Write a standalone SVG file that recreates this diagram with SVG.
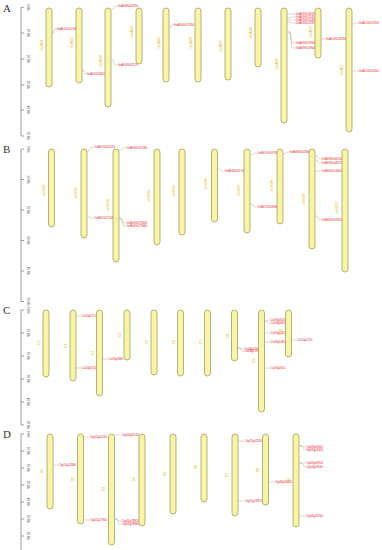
<svg xmlns="http://www.w3.org/2000/svg" width="382" height="550" viewBox="0 0 382 550">
<style>
text{font-family:"Liberation Sans",Arial,sans-serif}
.panel{font-family:"Liberation Serif","Times New Roman",serif;font-size:11px;fill:#333}
.chr{fill:#f8f5a6;stroke:#a3a060;stroke-width:0.8}
.cn{font-size:3.6px;fill:#e8b000;text-anchor:middle}
.g{font-size:2.9px;fill:#e8232b}
.ln{stroke:#a0a0a0;stroke-width:0.4;fill:none}
.ax{stroke:#606060;stroke-width:0.6;fill:none}
.tk{font-size:3px;fill:#555;text-anchor:middle}
</style>
<rect width="382" height="550" fill="#fff"/>

<!-- panel letters -->
<text class="panel" x="3" y="12">A</text>
<text class="panel" x="3" y="153">B</text>
<text class="panel" x="3" y="314">C</text>
<text class="panel" x="3" y="438">D</text>

<!-- scale axes -->
<g id="scales">
<path class="ax" d="M21,7.3V136 M21,7.3H24 M21,33H24 M21,59H24 M21,85H24 M21,110H24 M21,136H24"/>
<g class="tk">
<text transform="translate(27,7.3) rotate(90)">0 Mb</text>
<text transform="translate(27,33) rotate(90)">10 Mb</text>
<text transform="translate(27,59) rotate(90)">20 Mb</text>
<text transform="translate(27,85) rotate(90)">30 Mb</text>
<text transform="translate(27,110) rotate(90)">40 Mb</text>
<text transform="translate(27,136) rotate(90)">50 Mb</text>
</g>
<path class="ax" d="M21,149V301.5 M21,149H24 M21,179.5H24 M21,210H24 M21,240.5H24 M21,271H24 M21,301.5H24"/>
<g class="tk">
<text transform="translate(27,149) rotate(90)">0 Mb</text>
<text transform="translate(27,179.5) rotate(90)">10 Mb</text>
<text transform="translate(27,210) rotate(90)">20 Mb</text>
<text transform="translate(27,240.5) rotate(90)">30 Mb</text>
<text transform="translate(27,271) rotate(90)">40 Mb</text>
<text transform="translate(27,301.5) rotate(90)">50 Mb</text>
</g>
<path class="ax" d="M21,310V425 M21,310H24 M21,333H24 M21,356H24 M21,379H24 M21,402H24 M21,425H24"/>
<g class="tk">
<text transform="translate(27,310) rotate(90)">0 Mb</text>
<text transform="translate(27,333) rotate(90)">10 Mb</text>
<text transform="translate(27,356) rotate(90)">20 Mb</text>
<text transform="translate(27,379) rotate(90)">30 Mb</text>
<text transform="translate(27,402) rotate(90)">40 Mb</text>
<text transform="translate(27,425) rotate(90)">50 Mb</text>
</g>
<path class="ax" d="M21,434V550 M21,434H24 M21,451H24 M21,468H24 M21,485H24 M21,502H24 M21,519H24 M21,536H24"/>
<g class="tk">
<text transform="translate(27,434) rotate(90)">0 Mb</text>
<text transform="translate(27,451) rotate(90)">10 Mb</text>
<text transform="translate(27,468) rotate(90)">20 Mb</text>
<text transform="translate(27,485) rotate(90)">30 Mb</text>
<text transform="translate(27,502) rotate(90)">40 Mb</text>
<text transform="translate(27,519) rotate(90)">50 Mb</text>
<text transform="translate(27,536) rotate(90)">60 Mb</text>
</g>
</g>

<!-- connectors -->
<g id="connectors">
<path class="ln" d="M52,33H53.5L54.5,29H56"/>
<path class="ln" d="M82,70H83.5L84.5,74H86"/>
<path class="ln" d="M111,9H113L115,6H117"/>
<path class="ln" d="M111,60H113L115,65H117"/>
<path class="ln" d="M169,28H170.5L171.5,25H173"/>
<path class="ln" d="M287,14H290L292,14H295"/>
<path class="ln" d="M287,18H290L292,17H295"/>
<path class="ln" d="M287,20H290L292,20H295"/>
<path class="ln" d="M287,22H290L292,23H295"/>
<path class="ln" d="M287,32H290L292,43H295"/>
<path class="ln" d="M287,32H290L292,48H295"/>
<path class="ln" d="M321,39H325"/>
<path class="ln" d="M352,24H354L355.5,23H358"/>
<path class="ln" d="M352,71H358"/>

<path class="ln" d="M87,151H89L91.5,147H94"/>
<path class="ln" d="M87,216H89L91.5,218H94"/>
<path class="ln" d="M119,150H121L123.5,148H126"/>
<path class="ln" d="M119,218H121L123.5,223H126"/>
<path class="ln" d="M119,218H121L123.5,226H126"/>
<path class="ln" d="M217,168H219L221.5,171H224"/>
<path class="ln" d="M250,155H252L254.5,153H257"/>
<path class="ln" d="M250,204H252L254.5,207H257"/>
<path class="ln" d="M283,154H285L287,152H289"/>
<path class="ln" d="M315,156H317L319,159H321"/>
<path class="ln" d="M315,160H317L319,163H321"/>
<path class="ln" d="M315,171H321"/>
<path class="ln" d="M315,216H317L319,220H321"/>

<path class="ln" d="M76,316H81"/>
<path class="ln" d="M76,368H81"/>
<path class="ln" d="M102,359H108"/>
<path class="ln" d="M237,348H240L242,349H244"/>
<path class="ln" d="M237,348H240L242,351.5H244"/>
<path class="ln" d="M264,321H266L268,320H270"/>
<path class="ln" d="M264,321H266L268,323H270"/>
<path class="ln" d="M264,333H270"/>
<path class="ln" d="M264,342H270"/>
<path class="ln" d="M264,368H270"/>
<path class="ln" d="M291,340H297"/>

<path class="ln" d="M53,465H59"/>
<path class="ln" d="M83,437H90"/>
<path class="ln" d="M83,520H90"/>
<path class="ln" d="M114,435H122"/>
<path class="ln" d="M114,519H117L119,521H122"/>
<path class="ln" d="M114,519H117L119,524H122"/>
<path class="ln" d="M238,441H245"/>
<path class="ln" d="M238,501H245"/>
<path class="ln" d="M268,482H275"/>
<path class="ln" d="M299,446H302L304,447H306"/>
<path class="ln" d="M299,446H302L304,449.5H306"/>
<path class="ln" d="M299,463H302L304,463H306"/>
<path class="ln" d="M299,463H302L304,466.5H306"/>
<path class="ln" d="M299,516H306"/>
</g>

<!-- Panel A -->
<g id="A01"><rect class="chr" x="46" y="8" width="6" height="79" rx="3"/><text class="cn" transform="translate(42.5,45) rotate(-90)">chrA01</text>
<text class="g" x="56.5" y="30">GsA01G012340</text></g>
<g id="A02"><rect class="chr" x="76" y="8" width="6" height="75" rx="3"/><text class="cn" transform="translate(72.5,43) rotate(-90)">chrA02</text>
<text class="g" x="86.5" y="75">GsA02G058120</text></g>
<g id="A03"><rect class="chr" x="105" y="8" width="6" height="99" rx="3"/><text class="cn" transform="translate(101.5,61) rotate(-90)">chrA03</text>
<text class="g" x="117.5" y="7">GsA03G000910</text>
<text class="g" x="117.5" y="66">GsA03G041270</text></g>
<g id="A04"><rect class="chr" x="136" y="8" width="6" height="56" rx="3"/><text class="cn" transform="translate(132.5,32) rotate(-90)">chrA04</text></g>
<g id="A05"><rect class="chr" x="163" y="8" width="6" height="74" rx="3"/><text class="cn" transform="translate(159.5,43) rotate(-90)">chrA05</text>
<text class="g" x="173.5" y="26">GsA05G017650</text></g>
<g id="A06"><rect class="chr" x="195" y="8" width="6" height="74" rx="3"/><text class="cn" transform="translate(191.5,43) rotate(-90)">chrA06</text></g>
<g id="A07"><rect class="chr" x="225" y="8" width="6" height="72" rx="3"/><text class="cn" transform="translate(221.5,46) rotate(-90)">chrA07</text></g>
<g id="A08"><rect class="chr" x="255" y="8" width="6" height="59" rx="3"/><text class="cn" transform="translate(251.5,33) rotate(-90)">chrA08</text></g>
<g id="A09"><rect class="chr" x="281" y="8" width="6" height="115" rx="3"/><text class="cn" transform="translate(277.5,64) rotate(-90)">chrA09</text>
<text class="g" x="295.5" y="15">GsA09G008230</text>
<text class="g" x="295.5" y="18">GsA09G011450</text>
<text class="g" x="295.5" y="21">GsA09G011460</text>
<text class="g" x="295.5" y="24">GsA09G012870</text>
<text class="g" x="295.5" y="44">GsA09G019630</text>
<text class="g" x="295.5" y="49">GsA09G019640</text></g>
<g id="A10"><rect class="chr" x="315" y="8" width="6" height="50" rx="3"/><text class="cn" transform="translate(311.5,32) rotate(-90)">chrA10</text>
<text class="g" x="325.5" y="40">GsA10G028390</text></g>
<g id="A11"><rect class="chr" x="346" y="8" width="6" height="124" rx="3"/><text class="cn" transform="translate(342.5,70) rotate(-90)">chrA11</text>
<text class="g" x="358.5" y="24">GsA11G013920</text>
<text class="g" x="358.5" y="72">GsA11G052610</text></g>

<!-- Panel B -->
<g id="B01"><rect class="chr" x="48.5" y="149" width="6" height="78" rx="3"/><text class="cn" transform="translate(44.5,190) rotate(-90)">chrB01</text></g>
<g id="B02"><rect class="chr" x="81" y="149" width="6" height="89" rx="3"/><text class="cn" transform="translate(77,193) rotate(-90)">chrB02</text>
<text class="g" x="94.5" y="148">GsB02G001150</text>
<text class="g" x="94.5" y="219">GsB02G071680</text></g>
<g id="B03"><rect class="chr" x="113" y="149" width="6" height="113" rx="3"/><text class="cn" transform="translate(109,205) rotate(-90)">chrB03</text>
<text class="g" x="126.5" y="149">GsB03G001380</text>
<text class="g" x="126.5" y="224">GsB03G079450</text>
<text class="g" x="126.5" y="227">GsB03G079460</text></g>
<g id="B04"><rect class="chr" x="154" y="149" width="6" height="96" rx="3"/><text class="cn" transform="translate(150,196) rotate(-90)">chrB04</text></g>
<g id="B05"><rect class="chr" x="179" y="149" width="6" height="86" rx="3"/><text class="cn" transform="translate(175,191) rotate(-90)">chrB05</text></g>
<g id="B06"><rect class="chr" x="211.5" y="149" width="6" height="73" rx="3"/><text class="cn" transform="translate(207,184) rotate(-90)">chrB06</text>
<text class="g" x="224.5" y="172">GsB06G021730</text></g>
<g id="B07"><rect class="chr" x="244" y="149" width="6" height="84" rx="3"/><text class="cn" transform="translate(240,190) rotate(-90)">chrB07</text>
<text class="g" x="257.5" y="154">GsB07G003760</text>
<text class="g" x="257.5" y="208">GsB07G053980</text></g>
<g id="B08"><rect class="chr" x="277" y="149" width="6" height="75" rx="3"/><text class="cn" transform="translate(273,186) rotate(-90)">chrB08</text>
<text class="g" x="289.5" y="153">GsB08G002840</text></g>
<g id="B09"><rect class="chr" x="309" y="149" width="6" height="100" rx="3"/><text class="cn" transform="translate(305,199) rotate(-90)">chrB09</text>
<text class="g" x="321.5" y="160">GsB09G006150</text>
<text class="g" x="321.5" y="164">GsB09G008270</text>
<text class="g" x="321.5" y="172">GsB09G014620</text>
<text class="g" x="321.5" y="221">GsB09G059310</text></g>
<g id="B10"><rect class="chr" x="342" y="149" width="6" height="123" rx="3"/><text class="cn" transform="translate(338,208) rotate(-90)">chrB10</text></g>

<!-- Panel C -->
<g id="C01"><rect class="chr" x="43" y="310" width="6" height="67" rx="3"/><text class="cn" transform="translate(40,343) rotate(-90)">C1</text></g>
<g id="C02"><rect class="chr" x="70" y="310" width="6" height="71" rx="3"/><text class="cn" transform="translate(67,346) rotate(-90)">C2</text>
<text class="g" x="81.5" y="317">Cs02g0710</text>
<text class="g" x="81.5" y="369">Cs02g3150</text></g>
<g id="C03"><rect class="chr" x="96.5" y="310" width="6" height="86" rx="3"/><text class="cn" transform="translate(94,353) rotate(-90)">C3</text>
<text class="g" x="108.5" y="360">Cs03g2680</text></g>
<g id="C04"><rect class="chr" x="124" y="310" width="6" height="50" rx="3"/><text class="cn" transform="translate(121,335) rotate(-90)">C4</text></g>
<g id="C05"><rect class="chr" x="151" y="310" width="6" height="65" rx="3"/><text class="cn" transform="translate(148,342) rotate(-90)">C5</text></g>
<g id="C06"><rect class="chr" x="177.5" y="310" width="6" height="66" rx="3"/><text class="cn" transform="translate(175,342) rotate(-90)">C6</text></g>
<g id="C07"><rect class="chr" x="204.5" y="310" width="6" height="66" rx="3"/><text class="cn" transform="translate(202,342) rotate(-90)">C7</text></g>
<g id="C08"><rect class="chr" x="231.5" y="310" width="6" height="51" rx="3"/><text class="cn" transform="translate(229,336) rotate(-90)">C8</text>
<text class="g" x="244.5" y="349.8">Cs08g2140</text>
<text class="g" x="244.5" y="352.4">Cs08g2150</text></g>
<g id="C09"><rect class="chr" x="258.5" y="310" width="6" height="102" rx="3"/><text class="cn" transform="translate(255,361) rotate(-90)">C9</text>
<text class="g" x="270.5" y="321">Cs09g0620</text>
<text class="g" x="270.5" y="324">Cs09g0630</text>
<text class="g" x="270.5" y="334">Cs09g1140</text>
<text class="g" x="270.5" y="343">Cs09g1480</text>
<text class="g" x="270.5" y="369">Cs09g2610</text></g>
<g id="C10"><rect class="chr" x="285.5" y="310" width="6" height="47" rx="3"/><text class="cn" transform="translate(282,332) rotate(-90)">C10</text>
<text class="g" x="297.5" y="341">Cs10g1720</text></g>

<!-- Panel D -->
<g id="D01"><rect class="chr" x="47" y="434" width="6" height="75" rx="3"/><text class="cn" transform="translate(43,471) rotate(-90)">D1</text>
<text class="g" x="59.5" y="466">Dg01g14580</text></g>
<g id="D02"><rect class="chr" x="77.5" y="434" width="6" height="90" rx="3"/><text class="cn" transform="translate(74,479) rotate(-90)">D2</text>
<text class="g" x="90.5" y="438">Dg02g01240</text>
<text class="g" x="90.5" y="521">Dg02g27360</text></g>
<g id="D03"><rect class="chr" x="108.5" y="434" width="6" height="111" rx="3"/><text class="cn" transform="translate(105,489) rotate(-90)">D3</text>
<text class="g" x="122.5" y="436">Dg03g00110</text>
<text class="g" x="122.5" y="522">Dg03g28970</text>
<text class="g" x="122.5" y="525">Dg03g28980</text></g>
<g id="D04"><rect class="chr" x="139" y="434" width="6" height="92" rx="3"/><text class="cn" transform="translate(135,479) rotate(-90)">D4</text></g>
<g id="D05"><rect class="chr" x="170" y="434" width="6" height="80" rx="3"/><text class="cn" transform="translate(166,474) rotate(-90)">D5</text></g>
<g id="D06"><rect class="chr" x="201" y="434" width="6" height="68" rx="3"/><text class="cn" transform="translate(197,467) rotate(-90)">D6</text></g>
<g id="D07"><rect class="chr" x="232" y="434" width="6" height="82" rx="3"/><text class="cn" transform="translate(228,475) rotate(-90)">D7</text>
<text class="g" x="245.5" y="442">Dg07g02130</text>
<text class="g" x="245.5" y="502">Dg07g21870</text></g>
<g id="D08"><rect class="chr" x="262.5" y="434" width="6" height="71" rx="3"/><text class="cn" transform="translate(259,470) rotate(-90)">D8</text>
<text class="g" x="275.5" y="483">Dg08g16420</text></g>
<g id="D09"><rect class="chr" x="293" y="434" width="6" height="93" rx="3"/><text class="cn" transform="translate(290,480) rotate(-90)">D9</text>
<text class="g" x="306.5" y="448">Dg09g04310</text>
<text class="g" x="306.5" y="450.6">Dg09g04320</text>
<text class="g" x="306.5" y="464">Dg09g09150</text>
<text class="g" x="306.5" y="467.6">Dg09g09160</text>
<text class="g" x="306.5" y="517">Dg09g26740</text></g>
</svg>
